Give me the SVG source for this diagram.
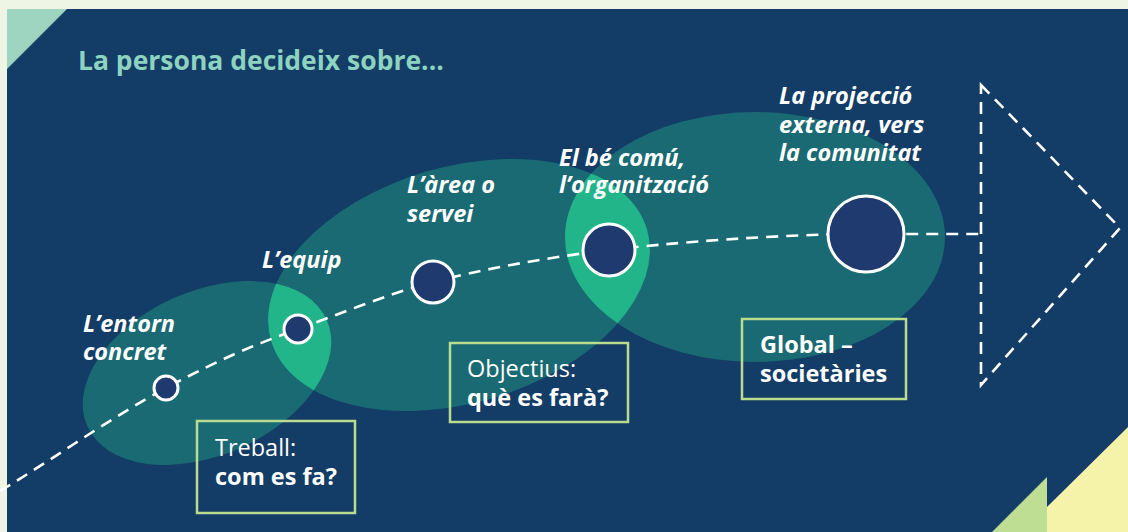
<svg xmlns="http://www.w3.org/2000/svg" width="1128" height="532" viewBox="0 0 1128 532">
<defs>
<style>
.lbl{font-family:"Open Sans","Liberation Sans",sans-serif;font-weight:700;font-style:italic;font-size:23.5px;fill:#ffffff}
.bx{font-family:"Open Sans","Liberation Sans",sans-serif;font-size:23.5px;fill:#ffffff}
.b{font-weight:700}
.box{fill:none;stroke:#b9dc8f;stroke-width:2.5}
.ell{fill:#1a6a74}
.lens{fill:#22b58a}
.dash{fill:none;stroke:#ffffff;stroke-width:2.6;stroke-dasharray:12 8}
.dot{fill:#1f3a6e;stroke:#ffffff;stroke-width:3}
</style>
<clipPath id="cE1"><ellipse cx="207" cy="373" rx="131" ry="82" transform="rotate(-24 207 373)"/></clipPath>
<clipPath id="cE3"><ellipse cx="755" cy="237" rx="190" ry="125"/></clipPath>
</defs>
<rect x="0" y="0" width="1128" height="532" fill="#eef5e4"/>
<rect x="7" y="9" width="1121" height="523" fill="#133d66"/>
<polygon points="7,9 67,9 7,69" fill="#9dd5c0"/>
<polygon points="1128,427 1047,507 1047,532 1128,532" fill="#f5f2a9"/>
<polygon points="1047,477 1047,532 992,532" fill="#bede94"/>
<text x="78" y="70" font-family="Open Sans, Liberation Sans, sans-serif" font-weight="700" font-size="26.5" fill="#8ed3c0">La persona decideix sobre...</text>
<g id="ellipses">
<ellipse class="ell" cx="207" cy="373" rx="131" ry="82" transform="rotate(-24 207 373)"/>
<ellipse class="ell" cx="459" cy="285" rx="196" ry="118" transform="rotate(-16.5 459 285)"/>
<ellipse class="ell" cx="755" cy="237" rx="190" ry="125"/>
<g clip-path="url(#cE1)"><ellipse class="lens" cx="459" cy="285" rx="196" ry="118" transform="rotate(-16.5 459 285)"/></g>
<g clip-path="url(#cE3)"><ellipse class="lens" cx="459" cy="285" rx="196" ry="118" transform="rotate(-16.5 459 285)"/></g>
</g>
<g id="connectors">
<path class="dash" d="M 0 491 C 55 458, 110 418, 166 388 S 254 345, 298 329 S 388 294, 433 282 S 550 257, 609 250 S 780 234, 866 234 L 981 234"/>
<polygon class="dash" points="981,85 1120,228 981,385"/>
</g>
<g id="node-entorn">
<circle class="dot" cx="166" cy="388" r="12"/>
<text class="lbl" x="83" y="332">L’entorn</text>
<text class="lbl" x="83" y="360">concret</text>
</g>
<g id="node-equip">
<circle class="dot" cx="298" cy="329" r="14"/>
<text class="lbl" x="262" y="268">L’equip</text>
</g>
<g id="node-area">
<circle class="dot" cx="433" cy="282" r="21"/>
<text class="lbl" x="407" y="193">L’àrea o</text>
<text class="lbl" x="407" y="222">servei</text>
</g>
<g id="node-organitzacio">
<circle class="dot" cx="609" cy="250" r="26"/>
<text class="lbl" x="559" y="166">El bé comú,</text>
<text class="lbl" x="559" y="193">l’organització</text>
</g>
<g id="node-comunitat">
<circle class="dot" cx="866" cy="234" r="38"/>
<text class="lbl" x="779" y="104">La projecció</text>
<text class="lbl" x="779" y="133">externa, vers</text>
<text class="lbl" x="779" y="161">la comunitat</text>
</g>
<g id="box-treball">
<rect class="box" x="197" y="421" width="158" height="92"/>
<text class="bx" x="215" y="456">Treball:</text>
<text class="bx b" x="215" y="485">com es fa?</text>
</g>
<g id="box-objectius">
<rect class="box" x="450" y="343" width="178" height="79"/>
<text class="bx" x="467" y="377">Objectius:</text>
<text class="bx b" x="467" y="406">què es farà?</text>
</g>
<g id="box-global">
<rect class="box" x="742" y="319" width="164" height="80"/>
<text class="bx b" x="760" y="353">Global –</text>
<text class="bx b" x="760" y="382">societàries</text>
</g>
</svg>
